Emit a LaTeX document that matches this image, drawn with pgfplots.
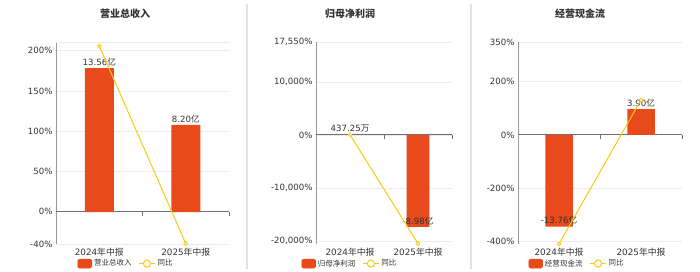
\documentclass[border=0pt]{standalone}
\usepackage{fontspec}
\setmainfont{DejaVu Sans}
\newfontfamily\cjk{Noto Sans CJK SC}
\usepackage{pgfplots}
\pgfplotsset{compat=1.18}
\definecolor{barc}{HTML}{E84A1B}
\definecolor{linec}{HTML}{F5CC12}
\definecolor{gridc}{HTML}{E6EBF5}
\definecolor{axc}{HTML}{6E7079}
\definecolor{yaxc}{HTML}{9A9A9A}
\definecolor{txt}{HTML}{333333}
\protected\def\yi{{\cjk 亿}}
\protected\def\wan{{\cjk 万}}
\protected\def\nb{{\cjk 年中报}}
\pgfplotsset{
  panel/.style={scale only axis, height=202pt, xmin=-0.5, xmax=1.5, anchor=south west, clip=false},
  gridaxis/.style={panel,
    axis x line*=bottom, x axis line style={draw=none},
    axis y line*=left, y axis line style={yaxc, line width=1pt},
    xtick={0,1}, xticklabels={2024\nb,2025\nb},
    major tick length=0pt, scaled y ticks=false,
    ymajorgrids, grid style={gridc, line width=0.8pt},
    xticklabel style={font=\fontsize{8.8}{10}\selectfont, text=txt, yshift=-1pt},
    yticklabel style={font=\fontsize{8.6}{10}\selectfont, text=txt},
  },
  baraxis/.style={panel, hide axis, ybar, bar shift=0pt,
    nodes near coords={\pgfplotspointmeta}, point meta=explicit symbolic,
    every node near coord/.append style={font=\fontsize{8.6}{10}\selectfont, text=txt, inner sep=2pt},
  },
  lineaxis/.style={panel, hide axis,
    legend columns=2,
    legend style={draw=none, fill=none, anchor=center, font=\cjk\fontsize{7.5}{9}\selectfont, text=txt, inner sep=0pt,
      /tikz/every even column/.append style={column sep=5pt}},
  },
  linestyle/.style={linec, line width=1pt, mark=*, mark size=1.8pt, mark options={fill=white, draw=linec, line width=0.9pt},
    legend image code/.code={\draw[linec, line width=1pt] (0pt,0pt) -- (16pt,0pt); \draw[linec, fill=white, line width=1pt] (8pt,0pt) circle (3.6pt);}},
  barlegend/.style={legend image code/.code={\fill[barc, rounded corners=1.5pt] (0pt,-4.5pt) rectangle (14pt,4.5pt);}},
}
\newcommand\zeroline{%
\draw[axc, line width=1pt] (axis cs:-0.5,0) -- (axis cs:1.5,0);
\draw[axc, line width=0.8pt] (axis cs:0.5,0) -- ([yshift=-4pt]axis cs:0.5,0);
\draw[axc, line width=0.8pt] (axis cs:1.5,0) -- ([yshift=-4pt]axis cs:1.5,0);}
\begin{document}
\begin{tikzpicture}
\useasboundingbox (0,0) rectangle (700pt,272pt);
% separators
\draw[gray!22, line width=2pt] (246.5pt,3pt) -- (246.5pt,268pt);
\draw[gray!22, line width=2pt] (470.5pt,3pt) -- (470.5pt,268pt);
% titles
\node[font=\cjk\bfseries\fontsize{10}{12}\selectfont, text=txt] at (125pt,258pt) {营业总收入};
\node[font=\cjk\bfseries\fontsize{10}{12}\selectfont, text=txt] at (350pt,258pt) {归母净利润};
\node[font=\cjk\bfseries\fontsize{10}{12}\selectfont, text=txt] at (580pt,258pt) {经营现金流};

% ---------- panel 1 ----------
\begin{axis}[gridaxis, at={(56pt,28pt)}, width=173pt, ymin=-40, ymax=211,
  ytick={-40,0,50,100,150,200}, yticklabels={-40\%,0\%,50\%,100\%,150\%,200\%},
  extra y ticks={211}, extra y tick labels={}, extra y tick style={grid=major}]
\zeroline
\end{axis}
\begin{axis}[baraxis, at={(56pt,28pt)}, width=173pt, ymin=-3.013, ymax=16.009, bar width=29pt]
\addplot[fill=barc, draw=none] coordinates {(0,13.56)[13.56\yi] (1,8.20)[8.20\yi]};
\end{axis}
\begin{axis}[lineaxis, at={(56pt,28pt)}, width=173pt, ymin=-40, ymax=211,
  legend style={at={(0.405,-0.097)}}]
\addlegendimage{barlegend}
\addlegendentry{营业总收入}
\addplot[linestyle] coordinates {(0,206) (1,-39.5)};
\addlegendentry{同比}
\end{axis}

% ---------- panel 2 ----------
\begin{axis}[gridaxis, at={(316pt,28pt)}, width=136pt, ymin=-20570, ymax=17550,
  ytick={-20000,-10000,0,10000,17550}, yticklabels={{-20,000\%},{-10,000\%},{0\%},{10,000\%},{17,550\%}}]
\zeroline
\end{axis}
\begin{axis}[baraxis, at={(316pt,28pt)}, width=136pt, ymin=-10.639, ymax=9.077, bar width=22.6pt]
\addplot[fill=barc, draw=none] coordinates {(0,0.0437)[437.25\wan] (1,-8.98)[-8.98\yi]};
\end{axis}
\begin{axis}[lineaxis, at={(316pt,28pt)}, width=136pt, ymin=-20570, ymax=17550,
  legend style={at={(0.25,-0.097)}}]
\addlegendimage{barlegend}
\addlegendentry{归母净利润}
\addplot[linestyle] coordinates {(0,50) (1,-20500)};
\addlegendentry{同比}
\end{axis}

% ---------- panel 3 ----------
\begin{axis}[gridaxis, at={(518pt,28pt)}, width=164pt, ymin=-411, ymax=350,
  ytick={-400,-200,0,200,350}, yticklabels={-400\%,-200\%,0\%,200\%,350\%}]
\zeroline
\end{axis}
\begin{axis}[baraxis, at={(518pt,28pt)}, width=164pt, ymin=-16.357, ymax=13.956, bar width=27.5pt]
\addplot[fill=barc, draw=none] coordinates {(0,-13.76)[-13.76\yi] (1,3.90)[3.90\yi]};
\end{axis}
\begin{axis}[lineaxis, at={(518pt,28pt)}, width=164pt, ymin=-411, ymax=350,
  legend style={at={(0.36,-0.097)}}]
\addlegendimage{barlegend}
\addlegendentry{经营现金流}
\addplot[linestyle] coordinates {(0,-411) (1,132)};
\addlegendentry{同比}
\end{axis}
\end{tikzpicture}
\end{document}
